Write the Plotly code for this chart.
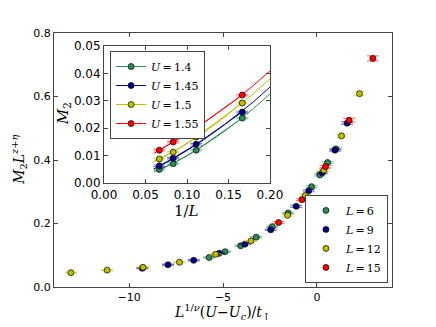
import plotly.graph_objects as go

# main collapse plot: x = L^{1/nu}(U-Uc)/t, y = M2 L^{z+eta}
x_L6 = [-5.74, -4.89, -4.06, -3.23, -2.38, -1.53, -0.28, 0.16, 0.57, 1.01]
y_L6 = [0.093, 0.111, 0.130, 0.157, 0.190, 0.233, 0.316, 0.353, 0.392, 0.435]
e_L6 = [0.002, 0.002, 0.002, 0.002, 0.002, 0.002, 0.003, 0.003, 0.003, 0.003]

x_L9 = [-9.30, -7.93, -6.56, -5.21, -3.83, -2.46, -1.10, -0.43, 0.28, 0.96, 1.61]
y_L9 = [0.059, 0.070, 0.084, 0.106, 0.135, 0.180, 0.254, 0.303, 0.360, 0.431, 0.516]
e_L9 = [0.002, 0.002, 0.002, 0.002, 0.002, 0.002, 0.003, 0.003, 0.003, 0.003, 0.004]

x_L12 = [-13.1, -11.17, -9.26, -7.32, -5.39, -3.51, -1.56, -0.62, 0.37, 1.31, 2.27]
y_L12 = [0.045, 0.053, 0.062, 0.078, 0.103, 0.145, 0.226, 0.288, 0.368, 0.476, 0.609]
e_L12 = [0.002, 0.002, 0.002, 0.002, 0.002, 0.002, 0.003, 0.003, 0.004, 0.005, 0.006]

x_L15 = [-2.04, -0.80, 0.46, 1.72, 2.98]
y_L15 = [0.203, 0.275, 0.379, 0.525, 0.720]
e_L15 = [0.003, 0.003, 0.004, 0.006, 0.008]

# inset: M2 vs 1/L
inv_L = [1 / 15, 1 / 12, 1 / 9, 1 / 6]
m2_U140 = [0.0050, 0.0071, 0.0120, 0.0237]
m2_U145 = [0.0063, 0.0091, 0.0142, 0.0259]
m2_U150 = [0.0088, 0.0113, 0.0168, 0.0292]
m2_U155 = [0.0120, 0.0150, 0.0201, 0.0321]

fit_x = [0.06, 0.08, 0.10, 0.12, 0.14, 0.16, 0.18, 0.20]
fit_U140 = [0.0040, 0.0067, 0.0100, 0.0137, 0.0178, 0.0223, 0.0272, 0.0325]
fit_U145 = [0.0052, 0.0083, 0.0119, 0.0158, 0.0201, 0.0247, 0.0296, 0.0350]
fit_U150 = [0.0077, 0.0108, 0.0144, 0.0184, 0.0228, 0.0276, 0.0326, 0.0380]
fit_U155 = [0.0108, 0.0143, 0.0180, 0.0219, 0.0262, 0.0307, 0.0356, 0.0409]

GREEN = "#2e8b57"
BLUE = "#000080"
YELLOW = "#bfbf00"
RED = "#ff0000"
ERR = {
    GREEN: "rgba(46,139,87,0.5)",
    BLUE: "rgba(0,0,128,0.5)",
    YELLOW: "rgba(191,191,0,0.5)",
    RED: "rgba(255,0,0,0.5)",
}
SERIF = "DejaVu Serif"
SANS = "DejaVu Sans"
EQ = "\u2009=\u2009"

fig = go.Figure()

main_series = [
    ("6", x_L6, y_L6, e_L6, GREEN),
    ("9", x_L9, y_L9, e_L9, BLUE),
    ("12", x_L12, y_L12, e_L12, YELLOW),
    ("15", x_L15, y_L15, e_L15, RED),
]
for name, xs, ys, es, color in main_series:
    fig.add_trace(
        go.Scatter(
            x=xs,
            y=ys,
            mode="markers",
            name=f"<i>L</i>{EQ}{name}",
            marker=dict(color=color, size=6, line=dict(width=0.7, color="black")),
            error_y=dict(type="data", array=es, color=ERR[color], width=6, thickness=1.2),
            legend="legend",
        )
    )

inset_series = [
    ("1.4", m2_U140, fit_U140, GREEN),
    ("1.45", m2_U145, fit_U145, BLUE),
    ("1.5", m2_U150, fit_U150, YELLOW),
    ("1.55", m2_U155, fit_U155, RED),
]
for name, ys, fit, color in inset_series:
    fig.add_trace(
        go.Scatter(
            x=fit_x,
            y=fit,
            mode="lines",
            line=dict(color=color, width=1),
            showlegend=False,
            xaxis="x2",
            yaxis="y2",
        )
    )
    fig.add_trace(
        go.Scatter(
            x=inv_L,
            y=ys,
            mode="lines+markers",
            name=f"<i>U</i>{EQ}{name}",
            line=dict(color=color, width=1),
            marker=dict(color=color, size=6, line=dict(width=0.7, color="black")),
            error_y=dict(type="data", array=[0.0003] * 4, color=ERR[color], width=6, thickness=1.2),
            xaxis="x2",
            yaxis="y2",
            legend="legend2",
        )
    )

axis_common = dict(
    showgrid=False,
    zeroline=False,
    showline=True,
    linecolor="#444",
    linewidth=1,
    mirror="ticks",
    ticks="inside",
    ticklen=4,
    tickcolor="#444",
    automargin=False,
)

legend_common = dict(
    bgcolor="white",
    bordercolor="#444",
    borderwidth=1,
    font=dict(family=SERIF, size=11),
    tracegroupgap=0,
    itemwidth=30,
)

fig.update_layout(
    width=436,
    height=327,
    margin=dict(l=54, r=44, t=33, b=40),
    paper_bgcolor="white",
    plot_bgcolor="white",
    font=dict(family=SANS, size=11, color="black"),
    xaxis=dict(axis_common, range=[-14, 4], tickvals=[-10, -5, 0], domain=[0, 1]),
    yaxis=dict(
        axis_common,
        range=[0, 0.8],
        tickvals=[0, 0.2, 0.4, 0.6, 0.8],
        tickformat=".1f",
        domain=[0, 1],
    ),
    xaxis2=dict(
        axis_common,
        range=[0, 0.2],
        tickvals=[0, 0.05, 0.10, 0.15, 0.20],
        tickformat=".2f",
        tickfont=dict(size=12),
        domain=[0.148, 0.639],
        anchor="y2",
    ),
    yaxis2=dict(
        axis_common,
        range=[0, 0.05],
        tickvals=[0, 0.01, 0.02, 0.03, 0.04, 0.05],
        tickformat=".2f",
        tickfont=dict(size=12),
        domain=[0.409, 0.949],
        anchor="x2",
    ),
    legend=dict(legend_common, x=0.988, y=0.016, xanchor="right", yanchor="bottom"),
    legend2=dict(legend_common, x=0.166, y=0.929, xanchor="left", yanchor="top"),
)

# axis titles as paper annotations so they sit where the original has them
titles = [
    ("<i>L</i><sup>1/<i>ν</i></sup>(<i>U</i>−<i>U</i><sub><i>c</i></sub>)/<i>t</i><sub>↑</sub>",
     0.497, -0.097, 0, 14),
    ("<i>M</i><sub>2</sub><i>L</i><sup><i>z</i>+<i>η</i></sup>", -0.104, 0.5, -90, 14),
    ("1/<i>L</i>", 0.393, 0.300, 0, 15),
    ("<i>M</i><sub>2</sub>", 0.027, 0.681, -90, 15),
]
for text, x, y, angle, size in titles:
    fig.add_annotation(
        text=text,
        x=x,
        y=y,
        xref="paper",
        yref="paper",
        xanchor="center",
        yanchor="middle",
        textangle=angle,
        showarrow=False,
        font=dict(family=SERIF, size=size),
    )

fig.write_html(
    "out.html",
    config={"displayModeBar": False},
    post_script="document.body.style.margin='0';",
)
